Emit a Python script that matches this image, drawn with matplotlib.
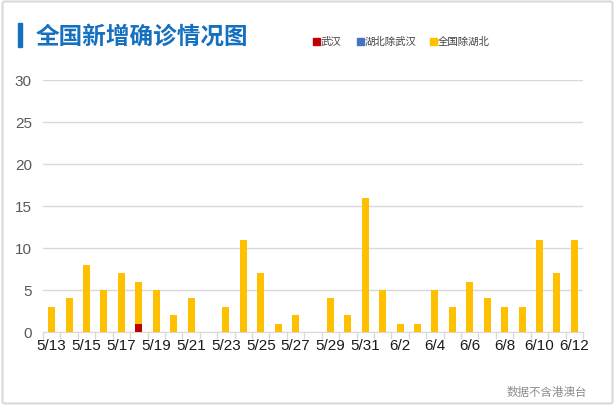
import matplotlib
matplotlib.use("Agg")
import matplotlib.pyplot as plt
from matplotlib.patches import Rectangle, FancyBboxPatch
import numpy as np

plt.rcParams['font.family'] = ['Liberation Sans', 'Noto Sans CJK SC', 'DejaVu Sans']

dates = ["5/13", "5/14", "5/15", "5/16", "5/17", "5/18", "5/19", "5/20", "5/21", "5/22",
         "5/23", "5/24", "5/25", "5/26", "5/27", "5/28", "5/29", "5/30", "5/31", "6/1",
         "6/2", "6/3", "6/4", "6/5", "6/6", "6/7", "6/8", "6/9", "6/10", "6/11", "6/12"]
wuhan = [0, 0, 0, 0, 0, 1, 0, 0, 0, 0, 0, 0, 0, 0, 0, 0, 0, 0, 0, 0,
         0, 0, 0, 0, 0, 0, 0, 0, 0, 0, 0]
hubei_ex_wuhan = [0] * 31
national_ex_hubei = [3, 4, 8, 5, 7, 5, 5, 2, 4, 0, 3, 11, 7, 1, 2, 0, 4, 2, 16, 5,
                     1, 1, 5, 3, 6, 4, 3, 3, 11, 7, 11]
series_names = ["武汉", "湖北除武汉", "全国除湖北"]
colors = ["#C00000", "#4472C4", "#FFC000"]
yticks = [0, 5, 10, 15, 20, 25, 30]
title = "全国新增确诊情况图"
note = "数据不含港澳台"

W, H = 615, 406
fig = plt.figure(figsize=(W / 100, H / 100), dpi=100)
fig.patch.set_facecolor("white")

# border
fig.patches.append(FancyBboxPatch((2.5 / W, 1.5 / H), (W - 5) / W, (H - 4) / H,
                                  boxstyle="round,pad=0,rounding_size=0.004",
                                  transform=fig.transFigure, facecolor="none",
                                  edgecolor="#D9D9D9", linewidth=1.5))

ax = fig.add_axes([43 / W, (H - 333) / H, 540 / W, (333 - 81) / H])
x = np.arange(len(dates))
w = 0.4
b1 = np.array(wuhan)
b2 = b1 + np.array(hubei_ex_wuhan)
ax.bar(x, wuhan, width=w, color=colors[0], zorder=3)
ax.bar(x, hubei_ex_wuhan, width=w, bottom=b1, color=colors[1], zorder=3)
ax.bar(x, national_ex_hubei, width=w, bottom=b2, color=colors[2], zorder=3)

ax.set_xlim(-0.5, len(dates) - 0.5)
ax.set_ylim(0, 30)
ax.set_yticks(yticks)
ax.set_yticklabels([str(v) for v in yticks], fontsize=11, color="#595959")
ax.tick_params(axis="y", length=0, pad=8)
ax.grid(axis="y", color="#D9D9D9", linewidth=1, zorder=0)
for s in ["top", "right", "left"]:
    ax.spines[s].set_visible(False)
ax.spines["bottom"].set_color("#D9D9D9")

ax.set_xticks(x[::2])
ax.set_xticklabels(dates[::2], fontsize=11, color="#1a1a1a")
ax.tick_params(axis="x", length=0, pad=4)
ax.set_xticks(np.arange(len(dates) + 1) - 0.5, minor=True)
ax.tick_params(axis="x", which="minor", length=5, color="#D9D9D9", width=1)

# title
fig.patches.append(Rectangle((18 / W, (H - 48) / H), 3.5 / W, 24 / H,
                             transform=fig.transFigure, color="#1570C0"))
fig.text(36 / W, (H - 37) / H, title, fontsize=17, fontweight="bold", color="#1570C0",
         va="center", ha="left", family=["Noto Sans CJK SC"])

# legend
lx = [313, 357, 430]
for px, name, c in zip(lx, series_names, colors):
    fig.patches.append(Rectangle((px / W, (H - 46) / H), 7 / W, 7 / H,
                                 transform=fig.transFigure, color=c))
    fig.text((px + 8) / W, (H - 41.5) / H, name, fontsize=7.5, color="#404040",
             va="center", ha="left", family=["Noto Sans CJK SC"])

fig.text(587 / W, (H - 393) / H, note, fontsize=8.3, color="#8C8C8C",
         va="center", ha="right", family=["Noto Sans CJK SC"])

fig.savefig("out.png", dpi=100, facecolor="white")
